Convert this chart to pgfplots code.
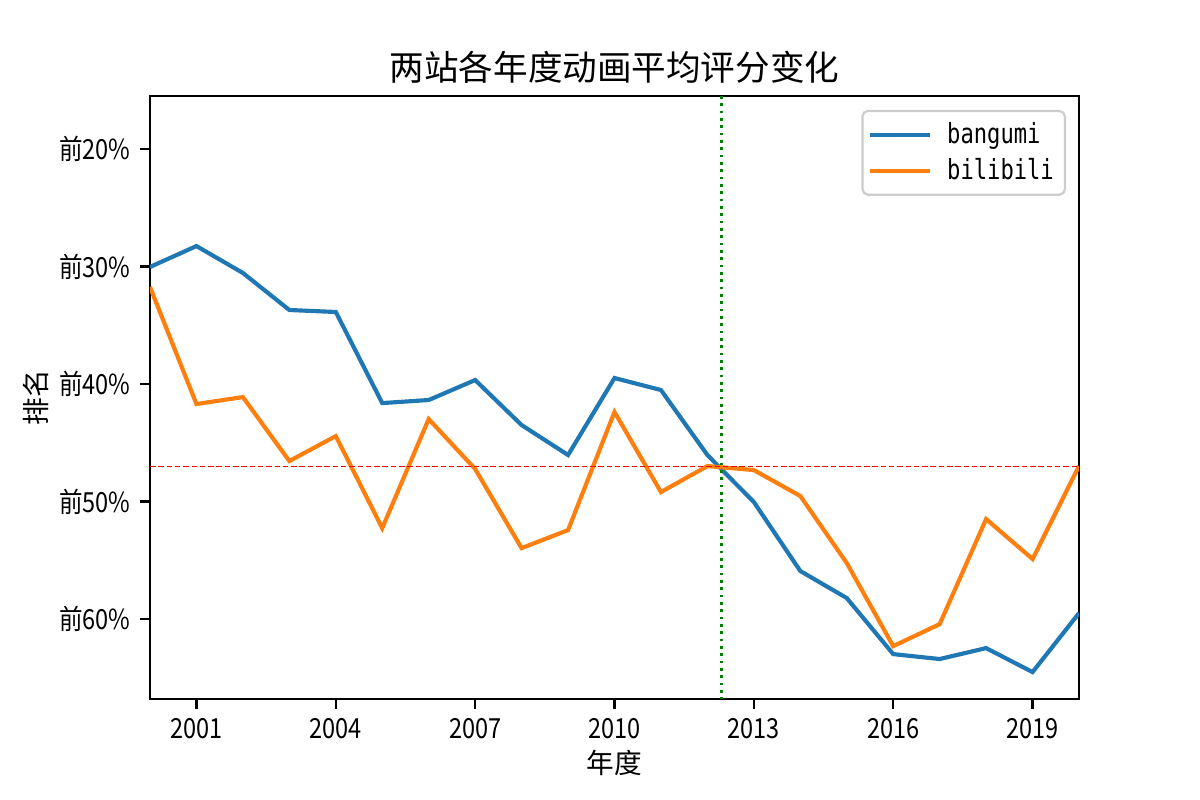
\documentclass[border=0pt]{standalone}
\usepackage{fontspec}
\setmainfont{Noto Sans CJK SC}
\newfontfamily\tickfont[FakeStretch=0.85]{Noto Sans CJK SC}
\newfontfamily\legfont[FakeStretch=0.8]{DejaVu Sans Mono}
\usepackage{pgfplots}
\pgfplotsset{compat=1.18}

\definecolor{tabblue}{HTML}{1F77B4}
\definecolor{taborange}{HTML}{FF7F0E}
\definecolor{mplgreen}{HTML}{008000}
\definecolor{mplred}{HTML}{FF0000}

\begin{document}
\begin{tikzpicture}
\begin{axis}[
  scale only axis,
  width=4.645in, height=3.015in,
  xmin=2000, xmax=2020,
  ymin=15.49, ymax=66.8,
  y dir=reverse,
  axis line style={line width=0.8pt},
  tick align=outside,
  xtick pos=bottom, ytick pos=left,
  major tick length=3.5pt,
  tick style={black, line width=0.8pt},
  xtick={2001,2004,2007,2010,2013,2016,2019},
  xticklabels={2001,2004,2007,2010,2013,2016,2019},
  ytick={20,30,40,50,60},
  yticklabels={前20\%,前30\%,前40\%,前50\%,前60\%},
  ticklabel style={font=\tickfont\fontsize{10}{12}\selectfont},
  xlabel={年度},
  ylabel={排名},
  label style={font=\fontsize{10}{12}\selectfont},
  xlabel style={yshift=3pt},
  ylabel style={yshift=-3pt},
  title={两站各年度动画平均评分变化},
  title style={font=\fontsize{12.5}{14}\selectfont, at={(0.5,1)}, anchor=south, yshift=-5pt},
  legend style={at={(1,1)}, anchor=north east, xshift=-4.7pt, yshift=-5pt,
    draw=black!20, rounded corners=2pt, line width=0.8pt,
    font=\legfont\fontsize{10}{12}\selectfont,
    row sep=0pt, inner xsep=2pt, inner ysep=2pt,
    cells={anchor=west}},
  legend image code/.code={\draw[#1] (0cm,0cm) -- (0.76cm,0cm); \path (0.76cm+3.5pt,0cm);},
  clip mode=individual,
]
\addplot[tabblue, line width=1.5pt] coordinates {
  (2000,30.04) (2001,28.26) (2002,30.55) (2003,33.70) (2004,33.87)
  (2005,41.62) (2006,41.36) (2007,39.66) (2008,43.49) (2009,46.04)
  (2010,39.49) (2011,40.51) (2012,46.04) (2013,50.04) (2014,55.91)
  (2015,58.21) (2016,62.98) (2017,63.40) (2018,62.47) (2019,64.51)
  (2020,59.49)};
\addlegendentry{bangumi}
\addplot[taborange, line width=1.5pt] coordinates {
  (2000,31.74) (2001,41.70) (2002,41.11) (2003,46.55) (2004,44.43)
  (2005,52.26) (2006,42.98) (2007,47.23) (2008,53.96) (2009,52.43)
  (2010,42.38) (2011,49.19) (2012,46.98) (2013,47.32) (2014,49.53)
  (2015,55.23) (2016,62.30) (2017,60.43) (2018,51.49) (2019,54.89)
  (2020,46.98)};
\addlegendentry{bilibili}
\addplot[color=mplred, line width=0.4pt, dash pattern=on 2pt off 1pt, forget plot] coordinates {
  (2000,46.98) (2020,46.98)};
\addplot[color=mplgreen, line width=1pt, dash pattern=on 1pt off 1.65pt, forget plot] coordinates {
  (2012.31,15.49) (2012.31,66.8)};
\end{axis}
\path (current axis.south west) ++(-0.75in,-0.505in) coordinate (bl);
\path (current axis.north east) ++(0.605in,0.48in) coordinate (tr);
\useasboundingbox (bl) rectangle (tr);
\end{tikzpicture}
\end{document}
